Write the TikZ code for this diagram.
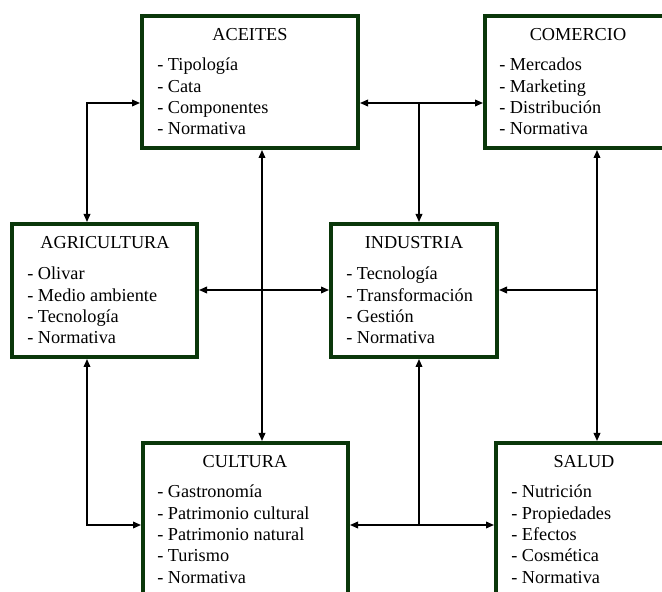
\documentclass[tikz,border=0pt]{standalone}
\usepackage{fontspec}
\setmainfont{Liberation Serif}
\usetikzlibrary{arrows.meta,fit}

\definecolor{verdeo}{RGB}{10,55,10}

\tikzset{
  caja/.style={draw=verdeo, line width=3pt, inner sep=0pt},
  titulo/.style={anchor=base, inner sep=0pt, font=\rmfamily\fontsize{13.7}{16}\selectfont},
  lista/.style={anchor=base west, align=left, inner sep=0pt, font=\rmfamily\fontsize{13.7}{16}\selectfont},
  doble/.style={line width=1.1pt, {Triangle[length=6pt,width=5pt]}-{Triangle[length=6pt,width=5pt]}},
  flecha/.style={line width=1.1pt, -{Triangle[length=6pt,width=5pt]}}
}

\begin{document}
\begin{tikzpicture}[x=0.75pt,y=-0.75pt]
  \useasboundingbox (0,0) rectangle (662,592);
  \clip (0,0) rectangle (662,592);

  % cajas
  \node[caja, fit={(142,16) (358,148)}] (aceites) {};
  \node[caja, fit={(485,16) (671,148)}] (comercio) {};
  \node[caja, fit={(12,224) (197,357)}] (agricultura) {};
  \node[caja, fit={(331,224) (497,357)}] (industria) {};
  \node[caja, fit={(143,443) (348,610)}] (cultura) {};
  \node[caja, fit={(496,443) (672,610)}] (salud) {};

  % textos (la lista se ancla en la base de su ultima linea)
  \node[titulo] (aceitesT) at (250,41) {ACEITES};
  \node[lista] (aceitesL) at (157,135) {- Tipología\\- Cata\\- Componentes\\- Normativa};

  \node[titulo] (comercioT) at (578,41) {COMERCIO};
  \node[lista] (comercioL) at (499,135) {- Mercados\\- Marketing\\- Distribución\\- Normativa};

  \node[titulo] (agriculturaT) at (105,249) {AGRICULTURA};
  \node[lista] (agriculturaL) at (27,344) {- Olivar\\- Medio ambiente\\- Tecnología\\- Normativa};

  \node[titulo] (industriaT) at (414,249) {INDUSTRIA};
  \node[lista] (industriaL) at (346,344) {- Tecnología\\- Transformación\\- Gestión\\- Normativa};

  \node[titulo] (culturaT) at (245,468) {CULTURA};
  \node[lista] (culturaL) at (157,583) {- Gastronomía\\- Patrimonio cultural\\- Patrimonio natural\\- Turismo\\- Normativa};

  \node[titulo] (saludT) at (584,468) {SALUD};
  \node[lista] (saludL) at (511,583) {- Nutrición\\- Propiedades\\- Efectos\\- Cosmética\\- Normativa};

  % puntos de quiebre
  \coordinate (codoA) at (87,103);
  \coordinate (codoB) at (87,525);
  \coordinate (ramaAC) at (419,103);
  \coordinate (ramaCS) at (419,525);
  \coordinate (ramaCoS) at (597,290);
  \coordinate (cruce) at (262,290);

  % conectores
  \draw[doble] (aceites.west |- codoA) -- (codoA) -- (agricultura.north -| codoA);
  \draw[doble] (agricultura.south -| codoB) -- (codoB) -- (cultura.west |- codoB);
  \draw[doble] (aceites.east |- ramaAC) -- (comercio.west |- ramaAC);
  \draw[flecha] (ramaAC) -- (industria.north -| ramaAC);
  \draw[doble] (aceites.south -| cruce) -- (cultura.north -| cruce);
  \draw[doble] (agricultura.east |- cruce) -- (industria.west |- cruce);
  \draw[doble] (comercio.south -| ramaCoS) -- (salud.north -| ramaCoS);
  \draw[flecha] (ramaCoS) -- (industria.east |- ramaCoS);
  \draw[doble] (cultura.east |- ramaCS) -- (salud.west |- ramaCS);
  \draw[flecha] (ramaCS) -- (industria.south -| ramaCS);
\end{tikzpicture}
\end{document}
